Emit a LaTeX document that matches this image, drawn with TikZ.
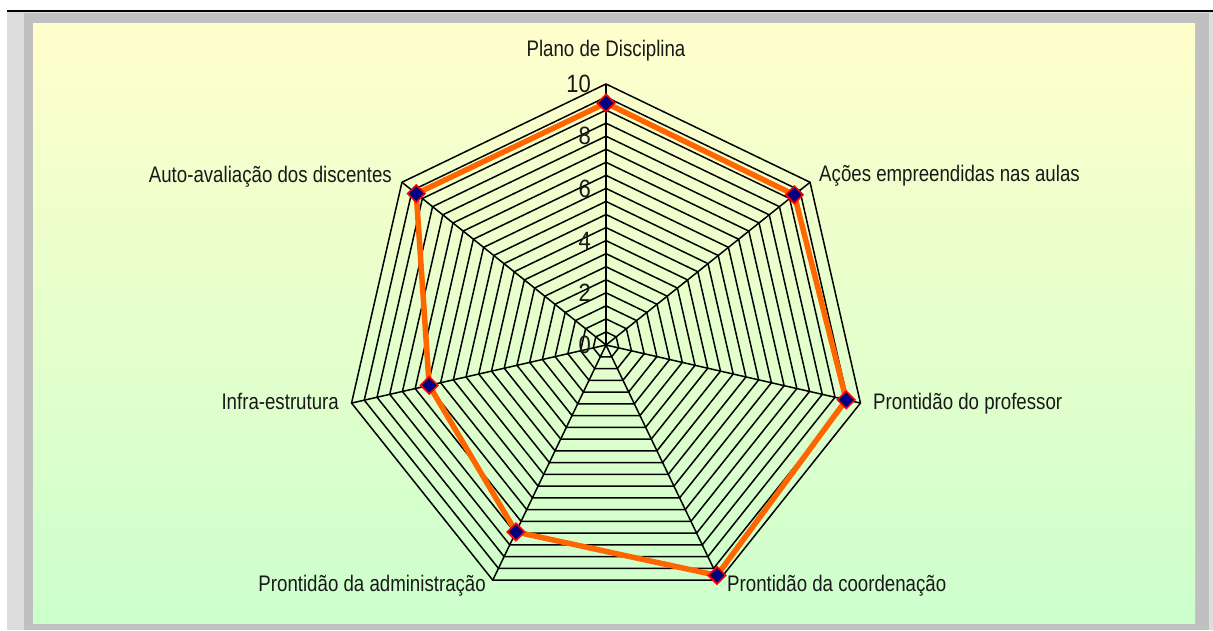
\documentclass[tikz,border=0pt]{standalone}
\usepackage{fontspec}
\setmainfont{Liberation Sans}
\newfontfamily\labfont[FakeStretch=0.83]{Liberation Sans}
\newfontfamily\numfont[FakeStretch=0.88]{Liberation Sans}
\usetikzlibrary{shapes.geometric,calc}
\definecolor{topyellow}{HTML}{FFFFCC}
\definecolor{botgreen}{HTML}{CCFFCC}
\definecolor{framegrey}{HTML}{C0C0C0}
\definecolor{lightgrey}{HTML}{DDDDDD}
\definecolor{serieorange}{HTML}{FF6600}
\definecolor{markernavy}{HTML}{000080}
\begin{document}
\begin{tikzpicture}[x=1pt,y=1pt,
  gridline/.style={draw=black,line width=1.5pt,line join=miter},
  serie/.style={draw=serieorange,line width=5.5pt,line join=round},
  marker/.style={diamond,draw=red,line width=1.6pt,fill=markernavy,inner sep=0pt,minimum width=18pt,minimum height=18pt},
  axlabel/.style={font=\labfont\fontsize{22.5}{26}\selectfont,inner sep=0pt,text=black!90},
  ticklabel/.style={font=\numfont\fontsize{25}{28}\selectfont,inner sep=0pt,anchor=east,text=black!90}]
\useasboundingbox (0,0) rectangle (1213,630);
\fill[white] (0,0) rectangle (1213,630);
\fill[lightgrey] (7,0) rectangle (1213,618);
\fill[framegrey] (24,0) rectangle (1209,616.5);
\shade[top color=topyellow,bottom color=botgreen] (33,7) rectangle (1195,606);
\fill[black] (7,618) rectangle (1213,620);
% radar
\def\myR{261}
\coordinate (c) at (606,285);
\foreach \k in {0,...,6} \coordinate (a\k) at ($(c)+({90-\k*360/7}:\myR)$);
\foreach \i in {1,...,20}
  \draw[gridline] ($(c)+(90:{\i*\myR/20})$) \foreach \k in {1,...,6}{ -- ($(c)+({90-\k*360/7}:{\i*\myR/20})$)} -- cycle;
\foreach \k in {0,...,6} \draw[gridline] (c) -- (a\k);
% tick labels
\foreach \t in {0,2,4,6,8,10} \node[ticklabel] (t\t) at ($(c)+(-15,{\t*\myR/10})$) {\t};
% data
\foreach \k/\v in {0/9.27,1/9.23,2/9.44,3/9.8,4/7.95,5/6.95,6/9.3}
  \coordinate (p\k) at ($(c)+({90-\k*360/7}:{\v*\myR/10})$);
\draw[serie] (p0) -- (p1) -- (p2) -- (p3) -- (p4) -- (p5) -- (p6) -- cycle;
\foreach \k in {0,...,6} \node[marker] (d\k) at (p\k) {};
% axis labels
\node[axlabel,anchor=base] (l0) at (606,573.3) {Plano de Disciplina};
\node[axlabel,anchor=base west] (l1) at (819,448.3) {Ações empreendidas nas aulas};
\node[axlabel,anchor=base west] (l2) at (873,221) {Prontidão do professor};
\node[axlabel,anchor=base west] (l3) at (727,38.3) {Prontidão da coordenação};
\node[axlabel,anchor=base east] (l4) at (486,38.3) {Prontidão da administração};
\node[axlabel,anchor=base east] (l5) at (339,221) {Infra-estrutura};
\node[axlabel,anchor=base east] (l6) at (392,447.7) {Auto-avaliação dos discentes};
\end{tikzpicture}
\end{document}
